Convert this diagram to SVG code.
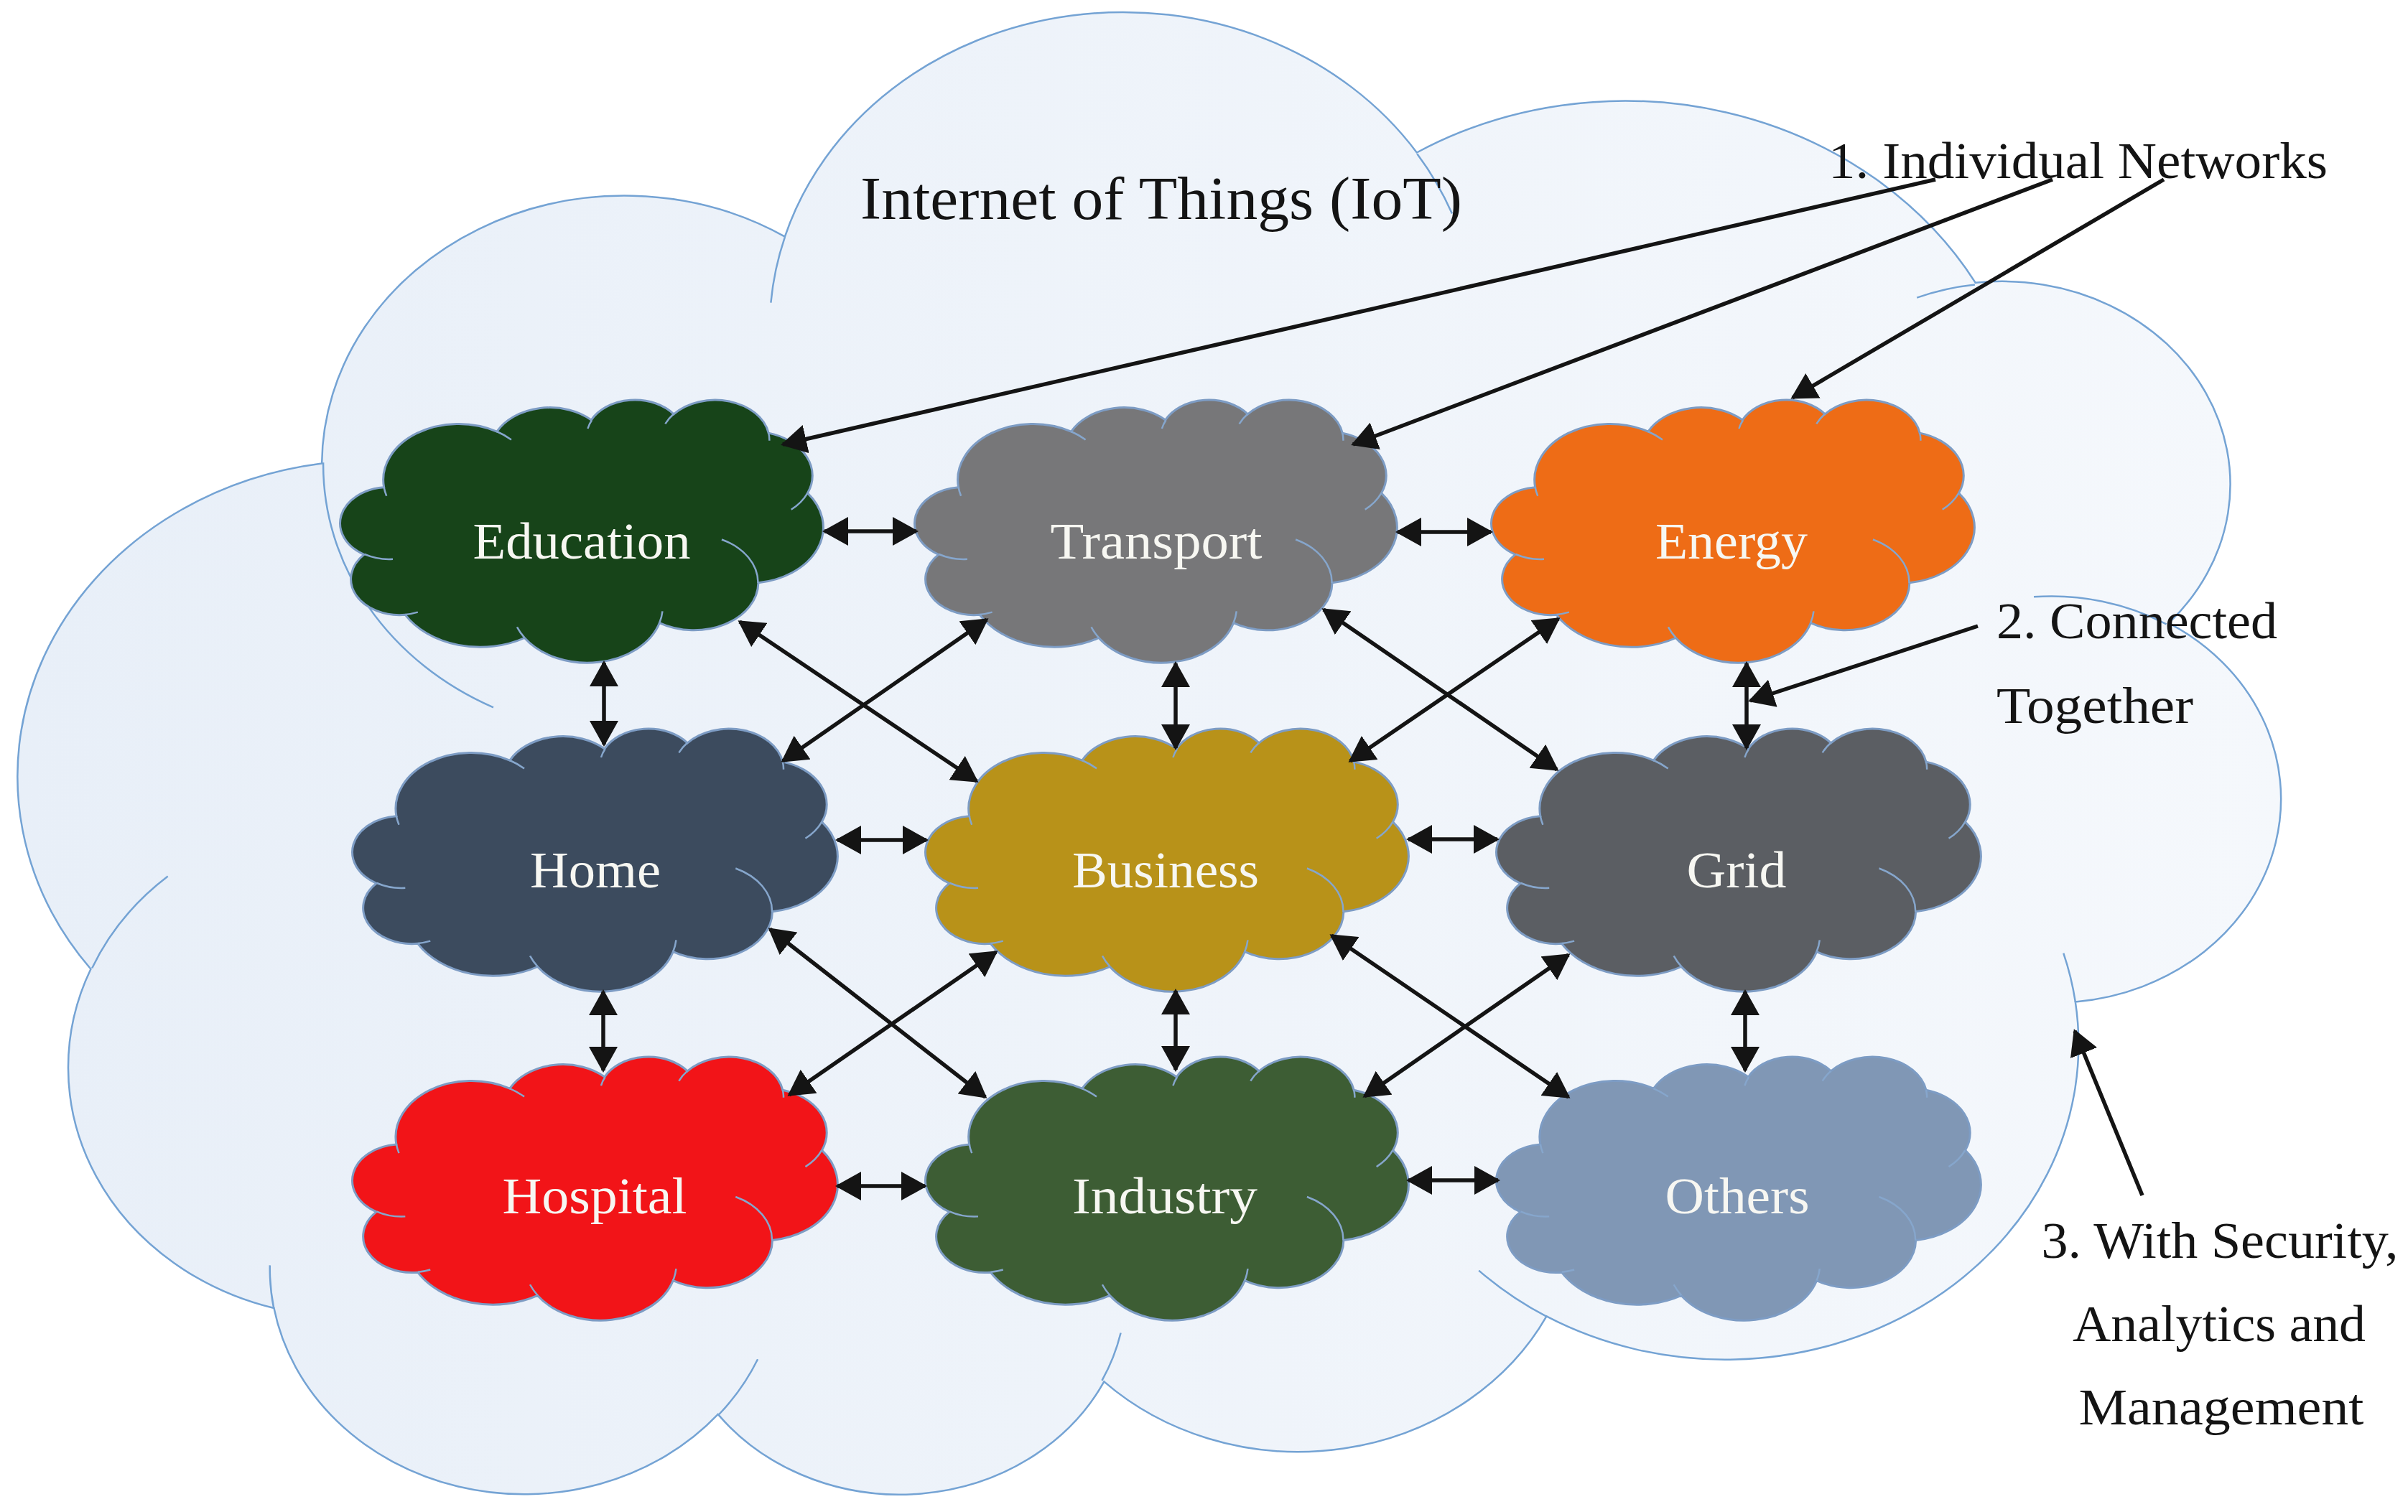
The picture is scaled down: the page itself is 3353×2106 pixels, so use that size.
<svg xmlns="http://www.w3.org/2000/svg" width="3353" height="2106" viewBox="0 0 3353 2106">
<style>
.cl{vector-effect:non-scaling-stroke}
.bigc{fill:url(#bigFill);stroke:#74a3d4;stroke-width:2.5}
.bigi{fill:none;stroke:#74a3d4;stroke-width:2.5}
.nodec{stroke:#7d9cc4;stroke-width:3}
.nodei{fill:none;stroke:#86a6cc;stroke-width:2.5}
.lbl{font-family:"Liberation Serif","DejaVu Serif",serif;font-size:72px;fill:#f7f7f2;text-anchor:middle}
.note{font-family:"Liberation Serif","DejaVu Serif",serif;font-size:72px;fill:#141414}
.dbl{stroke:#141414;stroke-width:5.5;fill:none;marker-start:url(#ah);marker-end:url(#ah)}
.ptr{stroke:#141414;stroke-width:5.5;fill:none;marker-end:url(#ah)}
</style>
<defs>
<linearGradient id="bigFill" x1="0" y1="0" x2="1" y2="0">
<stop offset="0" stop-color="#f5f8fc"/>
<stop offset="1" stop-color="#e8eff8"/>
</linearGradient>
<marker id="ah" markerUnits="userSpaceOnUse" viewBox="0 0 36 40" markerWidth="36" markerHeight="40" refX="33" refY="20" orient="auto-start-reverse">
<path d="M0,0 L36,20 L0,40 Z" fill="#141414"/>
</marker>
<path id="cloudShape" class="cl" d="M3900,14370 A6753,9190 0 0,1 14005,5202 A5333,7267 0 0,1 22460,3299 A4365,5945 0 0,1 29837,2346 A4857,6595 0 0,1 38322,5441 A5333,7273 0 0,1 41822,15325 A6775,9220 0 0,1 37407,30067 A5785,7867 0 0,1 28559,36677 A6752,9215 0 0,1 16484,39129 A7720,10543 0 0,1 5808,35334 A4360,5918 0 0,1 2115,25414 A4345,5945 0 0,1 3900,14370 Z"/>
<path id="cloudInner" class="cl" d="M4693,26177 A4345,5945 0 0,1 2160,25380 M6928,34899 A4360,5918 0 0,1 5820,35280 M16478,39090 A6752,9215 0 0,1 15810,37349 M28827,34751 A6752,9215 0 0,1 28560,36660 M34129,22954 A5785,7867 0 0,1 37380,30090 M41798,15354 A5333,7273 0 0,1 40350,18030 M38324,5426 A4857,6595 0 0,1 38400,6690 M29078,3952 A4857,6595 0 0,1 29820,2339 M22141,4720 A4365,5945 0 0,1 22500,3331 M14000,5192 A6753,9190 0 0,1 15299,6539 M4127,15789 A6753,9190 0 0,1 3900,14371"/>
</defs>
<rect x="0" y="0" width="3353" height="2106" fill="#ffffff"/>

<g id="iot-cloud">
<use href="#cloudShape" class="bigc" transform="matrix(-0.07287,0,0,-0.047778,3174,2082)"/>
<use href="#cloudInner" class="bigi" transform="matrix(-0.07287,0,0,-0.047778,3174,2082)"/>
<text class="note" x="1198" y="305" textLength="838" lengthAdjust="spacingAndGlyphs" style="font-size:84px">Internet of Things (IoT)</text>
</g>

<g id="node-education">
<use href="#cloudShape" class="nodec" fill="#174419" transform="translate(474,557) scale(0.015556,0.008472)"/>
<use href="#cloudInner" class="nodei" transform="translate(474,557) scale(0.015556,0.008472)"/>
<text class="lbl" x="810" y="778" textLength="303" lengthAdjust="spacingAndGlyphs">Education</text>
</g>
<g id="node-transport">
<use href="#cloudShape" class="nodec" fill="#777779" transform="translate(1274,557) scale(0.015532,0.008472)"/>
<use href="#cloudInner" class="nodei" transform="translate(1274,557) scale(0.015532,0.008472)"/>
<text class="lbl" x="1610" y="778" textLength="295" lengthAdjust="spacingAndGlyphs">Transport</text>
</g>
<g id="node-energy">
<use href="#cloudShape" class="nodec" fill="#ee6c16" transform="translate(2077,557) scale(0.015556,0.008472)"/>
<use href="#cloudInner" class="nodei" transform="translate(2077,557) scale(0.015556,0.008472)"/>
<text class="lbl" x="2411" y="778" textLength="212" lengthAdjust="spacingAndGlyphs">Energy</text>
</g>
<g id="node-home">
<use href="#cloudShape" class="nodec" fill="#3c4b5e" transform="translate(491,1015) scale(0.015625,0.008472)"/>
<use href="#cloudInner" class="nodei" transform="translate(491,1015) scale(0.015625,0.008472)"/>
<text class="lbl" x="829" y="1236" textLength="182" lengthAdjust="spacingAndGlyphs">Home</text>
</g>
<g id="node-business">
<use href="#cloudShape" class="nodec" fill="#b89219" transform="translate(1289,1015) scale(0.015556,0.008472)"/>
<use href="#cloudInner" class="nodei" transform="translate(1289,1015) scale(0.015556,0.008472)"/>
<text class="lbl" x="1623" y="1236" textLength="260" lengthAdjust="spacingAndGlyphs">Business</text>
</g>
<g id="node-grid">
<use href="#cloudShape" class="nodec" fill="#5b5e63" transform="translate(2084,1015) scale(0.015602,0.008472)"/>
<use href="#cloudInner" class="nodei" transform="translate(2084,1015) scale(0.015602,0.008472)"/>
<text class="lbl" x="2418" y="1236" textLength="139" lengthAdjust="spacingAndGlyphs">Grid</text>
</g>
<g id="node-hospital">
<use href="#cloudShape" class="nodec" fill="#f21418" transform="translate(491,1472) scale(0.015625,0.008495)"/>
<use href="#cloudInner" class="nodei" transform="translate(491,1472) scale(0.015625,0.008495)"/>
<text class="lbl" x="828" y="1690" textLength="257" lengthAdjust="spacingAndGlyphs">Hospital</text>
</g>
<g id="node-industry">
<use href="#cloudShape" class="nodec" fill="#3d5d34" transform="translate(1289,1472) scale(0.015556,0.008495)"/>
<use href="#cloudInner" class="nodei" transform="translate(1289,1472) scale(0.015556,0.008495)"/>
<text class="lbl" x="1622" y="1690" textLength="258" lengthAdjust="spacingAndGlyphs">Industry</text>
</g>
<g id="node-others">
<use href="#cloudShape" class="nodec" fill="#8097b5" transform="translate(2084,1472) scale(0.015602,0.008495)"/>
<use href="#cloudInner" class="nodei" transform="translate(2084,1472) scale(0.015602,0.008495)"/>
<text class="lbl" x="2419" y="1690" textLength="201" lengthAdjust="spacingAndGlyphs">Others</text>
</g>

<g id="connectors">
<line class="dbl" x1="1148" y1="740" x2="1276" y2="740"/>
<line class="dbl" x1="1946" y1="741" x2="2076" y2="741"/>
<line class="dbl" x1="1166" y1="1170" x2="1290" y2="1170"/>
<line class="dbl" x1="1961" y1="1169" x2="2085" y2="1169"/>
<line class="dbl" x1="1166" y1="1652" x2="1288" y2="1652"/>
<line class="dbl" x1="1961" y1="1644" x2="2086" y2="1644"/>
<line class="dbl" x1="841" y1="923" x2="841" y2="1037"/>
<line class="dbl" x1="1637" y1="924" x2="1637" y2="1042"/>
<line class="dbl" x1="2432" y1="924" x2="2432" y2="1042"/>
<line class="dbl" x1="840" y1="1381" x2="840" y2="1491"/>
<line class="dbl" x1="1637" y1="1380" x2="1637" y2="1490"/>
<line class="dbl" x1="2430" y1="1381" x2="2430" y2="1491"/>
<line class="dbl" x1="1030" y1="866" x2="1360" y2="1088"/>
<line class="dbl" x1="1374" y1="863" x2="1090" y2="1060"/>
<line class="dbl" x1="1843" y1="849" x2="2168" y2="1072"/>
<line class="dbl" x1="2170" y1="862" x2="1880" y2="1060"/>
<line class="dbl" x1="1072" y1="1294" x2="1372" y2="1528"/>
<line class="dbl" x1="1387" y1="1326" x2="1099" y2="1525"/>
<line class="dbl" x1="1854" y1="1303" x2="2184" y2="1528"/>
<line class="dbl" x1="2184" y1="1330" x2="1900" y2="1527"/>
<line class="ptr" x1="2695" y1="250" x2="1090" y2="619"/>
<line class="ptr" x1="2858" y1="250" x2="1884" y2="619"/>
<line class="ptr" x1="3013" y1="250" x2="2496" y2="554"/>
<line class="ptr" x1="2754" y1="872" x2="2437" y2="976"/>
<line class="ptr" x1="2983" y1="1665" x2="2889" y2="1436"/>
</g>

<g id="annotations">
<text class="note" x="2546" y="248" textLength="695" lengthAdjust="spacingAndGlyphs">1. Individual Networks</text>
<text class="note" x="2780" y="889" textLength="391" lengthAdjust="spacingAndGlyphs">2. Connected</text>
<text class="note" x="2780" y="1007" textLength="274" lengthAdjust="spacingAndGlyphs">Together</text>
<text class="note" x="3091" y="1752" text-anchor="middle" textLength="497" lengthAdjust="spacingAndGlyphs">3. With Security,</text>
<text class="note" x="3090" y="1868" text-anchor="middle" textLength="408" lengthAdjust="spacingAndGlyphs">Analytics and</text>
<text class="note" x="3093" y="1984" text-anchor="middle" textLength="397" lengthAdjust="spacingAndGlyphs">Management</text>
</g>
</svg>
